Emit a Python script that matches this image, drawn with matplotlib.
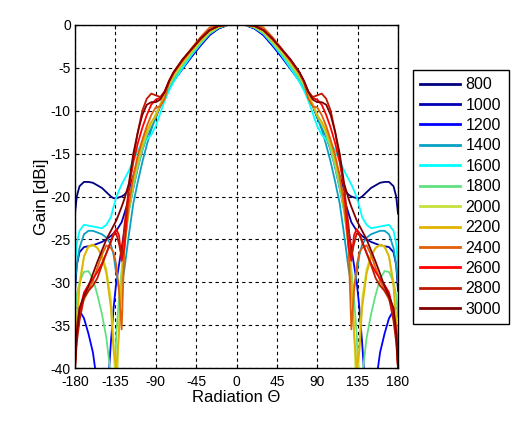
import matplotlib
matplotlib.use("Agg")
import matplotlib.pyplot as plt
import numpy as np

# half pattern angles (deg), mirrored for the negative side
angles = [0, 10, 20, 30, 40, 50, 60, 70, 75, 80, 85, 90, 95, 100, 105, 110,
          115, 120, 125, 128, 131, 134, 137, 140, 145, 150, 155, 160, 165,
          170, 175, 178, 180]

freqs = ["800", "1000", "1200", "1400", "1600", "1800",
         "2000", "2200", "2400", "2600", "2800", "3000"]

g800 = [0, 0, -0.4, -1.1, -2.3, -3.6, -5.0, -6.5, -7.4, -8.5, -9.4, -10.8,
        -11.8, -12.8, -14.0, -15.8, -17.6, -19.2, -19.8, -20.0, -20.1, -20.2,
        -20.2, -20.0, -19.5, -19.0, -18.7, -18.4, -18.3, -18.3, -18.8, -20.0,
        -22.0]
g1000 = [0, 0, -0.4, -1.1, -2.3, -3.6, -5.0, -6.4, -7.3, -8.4, -9.3, -10.6,
         -11.7, -12.8, -14.2, -16.2, -18.3, -20.3, -22.0, -23.0, -23.5, -24.0,
         -24.3, -24.6, -25.0, -25.3, -25.5, -25.7, -25.8, -25.9, -26.5, -28.0,
         -31.0]
g1200 = [0, 0, -0.4, -1.2, -2.4, -3.7, -5.1, -6.5, -7.4, -8.5, -9.4, -10.7,
         -11.9, -13.0, -14.6, -16.6, -19.0, -21.5, -24.0, -26.0, -28.0, -30.0,
         -33.0, -37.0, -45.0, -45.0, -42.0, -38.2, -36.0, -34.2, -33.3, -33.0,
         -33.0]
g1400 = [0, 0, -0.3, -1.0, -2.1, -3.4, -4.8, -6.3, -7.2, -8.3, -9.4, -10.8,
         -12.2, -14.0, -16.0, -18.3, -20.8, -24.5, -28.5, -30.3, -30.6, -29.0,
         -26.8, -25.6, -24.8, -24.4, -24.2, -24.0, -24.0, -24.4, -26.0, -28.0,
         -30.0]
g1600 = [0, 0, -0.3, -1.0, -2.2, -3.5, -5.0, -6.6, -7.6, -8.8, -10.3, -11.8,
         -12.8, -13.4, -13.8, -14.6, -15.8, -17.0, -18.0, -18.6, -19.3, -20.1,
         -21.2, -22.4, -23.3, -23.7, -23.6, -23.5, -23.4, -23.3, -24.0, -25.5,
         -28.0]
g1800 = [0, 0, -0.3, -1.0, -2.1, -3.3, -4.7, -6.2, -7.1, -8.3, -9.3, -10.4,
         -11.6, -12.9, -14.6, -16.6, -19.0, -21.8, -25.5, -28.5, -32.0, -36.0,
         -45.0, -41.0, -36.5, -33.7, -31.5, -29.6, -28.7, -28.8, -30.0, -31.5,
         -34.0]
g2000 = [0, 0, -0.2, -0.8, -1.9, -3.1, -4.4, -5.9, -6.9, -8.1, -9.3, -10.5,
         -11.5, -12.5, -14.0, -16.0, -18.2, -21.0, -25.0, -29.0, -35.0, -45.0,
         -37.0, -32.0, -28.5, -26.8, -26.0, -25.7, -25.9, -27.0, -30.0, -34.0,
         -40.0]
g2200 = [0, 0, -0.2, -0.7, -1.8, -3.0, -4.3, -5.8, -6.8, -7.9, -9.4, -10.6,
         -11.3, -12.3, -13.8, -15.7, -18.0, -21.5, -26.0, -30.0, -36.0, -40.0,
         -38.0, -33.0, -29.0, -27.0, -26.0, -25.6, -25.8, -27.0, -30.5, -35.0,
         -40.0]
g2400 = [0, 0, 0, -0.3, -1.4, -2.7, -4.1, -5.6, -6.6, -8.6, -9.5, -9.6,
         -10.5, -11.8, -13.4, -15.2, -17.6, -21.0, -26.0, -35.5, -31.0, -28.0,
         -26.5, -26.0, -25.7, -26.8, -28.3, -29.8, -31.0, -32.0, -33.5, -35.0,
         -38.0]
g2600 = [0, 0, -0.1, -0.6, -1.6, -2.8, -4.1, -5.5, -6.5, -7.7, -8.5, -8.7,
         -9.3, -10.5, -12.0, -13.8, -16.0, -19.0, -26.0, -27.5, -24.5, -23.8,
         -24.3, -25.2, -26.6, -27.8, -28.8, -29.6, -30.3, -31.2, -33.5, -36.0,
         -40.0]
g2800 = [0, 0, -0.1, -0.6, -1.6, -2.8, -4.0, -5.5, -6.5, -7.8, -8.4, -8.2,
         -8.0, -8.6, -10.0, -12.5, -15.5, -19.0, -23.5, -27.0, -25.5, -24.3,
         -24.5, -25.3, -26.6, -28.0, -29.5, -30.4, -31.0, -31.8, -34.5, -37.0,
         -40.0]
g3000 = [0, 0, -0.1, -0.6, -1.6, -2.8, -4.0, -5.5, -6.5, -7.8, -8.7, -9.0,
         -9.0, -9.3, -10.5, -12.5, -15.0, -18.5, -20.3, -21.2, -22.0, -22.8,
         -23.4, -24.0, -25.0, -26.3, -27.6, -29.0, -30.5, -31.6, -33.0, -36.0,
         -40.0]

gains = [g800, g1000, g1200, g1400, g1600, g1800,
         g2000, g2200, g2400, g2600, g2800, g3000]

colors = ['#00007f', '#0000b4', '#0000ff', '#08a0c4', '#00ffff', '#60e080',
          '#c6e03c', '#e0b400', '#e0600a', '#ff0000', '#c01800', '#800000']

xticks = [-180, -135, -90, -45, 0, 45, 90, 135, 180]
yticks = [0, -5, -10, -15, -20, -25, -30, -35, -40]


def full_pattern(half):
    theta = np.array(angles, dtype=float)
    vals = np.array(half, dtype=float)
    return (np.concatenate([-theta[::-1], theta[1:]]),
            np.concatenate([vals[::-1], vals[1:]]))


def main():
    plt.rcParams['font.family'] = ['Liberation Sans', 'DejaVu Sans']

    fig = plt.figure(figsize=(5.31, 4.28), dpi=100)
    ax = fig.add_axes([75 / 531, 60 / 428, 323 / 531, 343 / 428])

    for name, half, col in zip(freqs, gains, colors):
        x, y = full_pattern(half)
        ax.plot(x, y, color=col, lw=1.3, label=name)

    ax.set_xlim(-180, 180)
    ax.set_ylim(-40, 0)
    ax.set_xticks(xticks)
    ax.set_yticks(yticks)
    ax.set_xticklabels([str(t) for t in xticks])
    ax.set_yticklabels([str(t) for t in yticks])
    ax.tick_params(direction='in', length=3, labelsize=10,
                   top=True, right=True)
    ax.tick_params(axis='x', pad=5)
    ax.tick_params(axis='y', pad=3)
    ax.grid(True, color='black', lw=0.8, ls=(0, (3, 3)))
    for sp in ax.spines.values():
        sp.set_color('black')
        sp.set_linewidth(1)

    ax.set_xlabel('Radiation Θ', fontsize=12, labelpad=1)
    ax.set_ylabel('Gain [dBi]', fontsize=12.5, labelpad=1)

    leg = ax.legend(loc='upper left', bbox_to_anchor=(413 / 531, 1 - 70 / 428),
                    bbox_transform=fig.transFigure, borderaxespad=0,
                    fontsize=11.5, handlelength=2.5, labelspacing=0.34,
                    handletextpad=0.35, borderpad=0.45, fancybox=False,
                    framealpha=1, edgecolor='black')
    leg.get_frame().set_linewidth(1)
    for line in leg.get_lines():
        line.set_linewidth(2)

    fig.savefig('out.png', dpi=100)
    plt.close(fig)


if __name__ == "__main__":
    main()
